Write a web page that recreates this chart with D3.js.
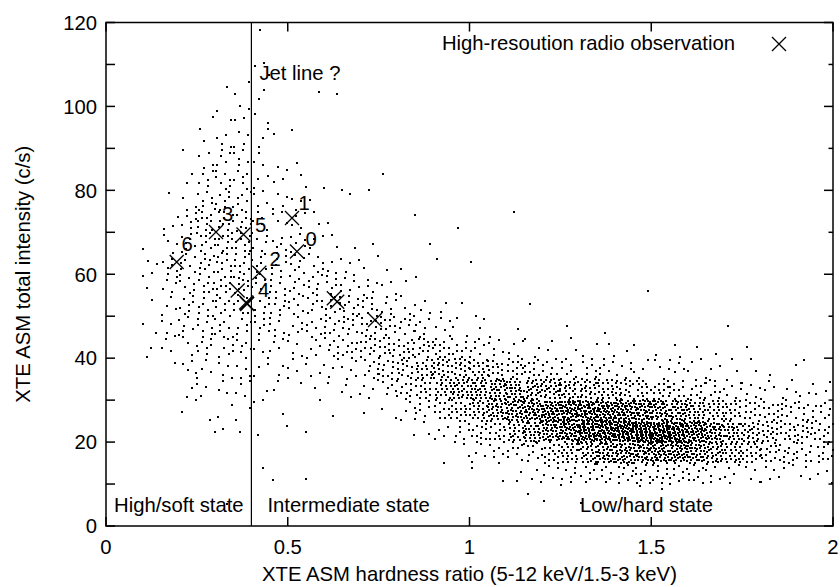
<!DOCTYPE html>
<html>
<head>
<meta charset="utf-8">
<script src="https://cdn.jsdelivr.net/npm/d3@7"></script>
<style>
  html, body { margin: 0; padding: 0; background: #fff; }
  svg { display: block; font-family: "Liberation Sans", Arial, Helvetica, sans-serif; }
</style>
</head>
<body>
<div id="chart"></div>
<script>
// hardness bins (lower edge, width 0.05) and intensity bins (lower edge, width 5)
const hardnessBins = d3.range(38).map((i) => +(0.10 + i * 0.05).toFixed(2));
const intensityBins = d3.range(24).map((i) => i * 5);

// number of ASM dwells per cell
// each row is one hardness bin, columns are intensity 0,5,10,... (trailing zeros left out)
const dwellCounts = [
  [0,0,0,0,0,0,0,0,2,2,1,2,3,1], // 0.10
  [0,0,0,0,0,0,0,1,3,4,4,5,6,4,3,1], // 0.15
  [0,0,0,0,0,1,3,4,4,6,7,7,7,7,6,3,2,1], // 0.20
  [0,0,0,0,1,1,3,4,6,7,8,9,9,10,10,7,5,4,2,1], // 0.25
  [0,1,0,0,1,2,3,4,6,7,8,10,10,10,10,8,7,5,4,2,1], // 0.30
  [0,0,0,0,1,2,4,4,6,7,8,10,9,9,9,7,6,5,4,3,2,1], // 0.35
  [0,0,1,0,1,1,2,3,4,6,7,7,7,6,5,4,3,3,3,2,2,2,1,1], // 0.40
  [0,0,1,0,1,1,2,3,4,6,7,7,7,6,4,4,3,1,1], // 0.45
  [0,0,1,0,0,0,1,3,4,6,7,7,7,6,4,3,2,1,1], // 0.50
  [0,0,0,0,1,0,2,3,5,7,8,7,6,3,2,1,1,0,0,0,1], // 0.55
  [0,0,0,0,0,1,2,4,7,9,9,8,4,2,1,0,1,0,0,0,1], // 0.60
  [0,0,0,0,0,0,3,5,9,10,9,5,3,1,0,1], // 0.65
  [0,0,0,0,0,1,4,8,11,11,9,5,2,1,0,0,1], // 0.70
  [0,0,0,0,0,2,6,11,13,11,6,3,1,0,0,0,1], // 0.75
  [0,0,0,0,1,4,10,14,14,8,4,1,1,0,1], // 0.80
  [0,0,0,0,2,7,14,18,13,7,3,1,0,1], // 0.85
  [0,0,0,1,4,12,20,20,11,5,2,0,1], // 0.90
  [0,0,0,2,7,17,26,20,8,3,1,0,0,0,1], // 0.95
  [0,0,1,4,11,24,30,18,7,2,1,0,1], // 1.00
  [0,0,1,6,15,32,31,15,5,1], // 1.05
  [0,0,2,8,22,38,32,13,4,1,0,0,0,0,1], // 1.10
  [0,1,3,10,30,44,29,10,3,0,1], // 1.15
  [0,1,4,15,40,50,27,8,2], // 1.20
  [0,1,6,21,50,54,25,7,2,1], // 1.25
  [0,1,7,28,60,54,22,7,2], // 1.30
  [0,0,8,35,68,54,20,6,2,1], // 1.35
  [0,0,9,40,72,50,18,5,1], // 1.40
  [0,1,9,43,72,45,15,4,1,0,0,1], // 1.45
  [0,1,9,46,72,40,13,4,1], // 1.50
  [0,0,9,45,65,35,11,4,2], // 1.55
  [0,0,8,38,54,28,10,3,1], // 1.60
  [0,0,6,30,40,21,9,3,1], // 1.65
  [0,0,5,23,30,16,6,2,0,1], // 1.70
  [0,0,4,17,23,13,5,2,1], // 1.75
  [0,0,4,14,18,11,4,1], // 1.80
  [0,0,3,11,14,10,4,1], // 1.85
  [0,0,3,10,13,9,3,1], // 1.90
  [0,0,3,10,12,8,3], // 1.95
];

// high-resolution radio observations (hardness, intensity)
const obsHardness  = [0.1945, 0.3026, 0.3783, 0.5117, 0.5254, 0.4217, 0.3623, 0.3855, 0.3885, 0.387, 0.6267, 0.636, 0.740];
const obsIntensity = [62.92, 70.07, 69.47, 73.40, 65.42, 60.34, 56.13, 53.3, 52.9, 53.1, 54.27, 53.43, 49.09];

// observation numbers written beside the crosses
const obsLabels = ["6", "3", "5", "1", "0", "2", "4"];
const obsLabelHardness  = [0.2077, 0.319, 0.41, 0.5296, 0.5488, 0.4498, 0.418];
const obsLabelIntensity = [65.6, 72.76, 70.1, 75.3, 66.7, 62.0, 54.6];

const xTicks = [0, 0.5, 1, 1.5, 2];
const yTicks = [0, 20, 40, 60, 80, 100, 120];
const yMinorTicks = [10, 30, 50, 70, 90, 110];
const jetLine = 0.40;
const stateLabels = ["High/soft state", "Intermediate state", "Low/hard state"];
const stateLabelHardness = [0.022, 0.444, 1.304];

const width = 840, height = 587;
const margin = { top: 22.5, right: 7, bottom: 61, left: 106 };
const fontSize = 20.3;

const x = d3.scaleLinear().domain([0, 2]).range([margin.left, width - margin.right]);
const y = d3.scaleLinear().domain([0, 120]).range([height - margin.bottom, margin.top]);

const svg = d3.select("#chart").append("svg")
  .attr("width", width)
  .attr("height", height)
  .style("font-size", fontSize + "px");

// spread each cell's dwells evenly inside the cell (R2 low-discrepancy sequence)
const a1 = 0.7548776662466927, a2 = 0.5698402909980532;
const dots = [];
let k = 0;
dwellCounts.forEach((row, i) => {
  row.forEach((n, j) => {
    for (let m = 0; m < n; m++, k++) {
      const u = (0.5 + a1 * k) % 1;
      const v = (0.5 + a2 * k) % 1;
      dots.push([hardnessBins[i] + u * 0.05, intensityBins[j] + v * 5]);
    }
  });
});

// crisp 2px dots like the original plot
svg.append("g")
  .attr("shape-rendering", "crispEdges")
  .selectAll("rect")
  .data(dots)
  .join("rect")
  .attr("x", (d) => Math.round(x(d[0])) - 1)
  .attr("y", (d) => Math.round(y(d[1])) - 1)
  .attr("width", 2)
  .attr("height", 2)
  .attr("fill", "#000");

// jet line
svg.append("line")
  .attr("x1", x(jetLine)).attr("x2", x(jetLine))
  .attr("y1", y(0)).attr("y2", y(120))
  .attr("stroke", "#000").attr("stroke-width", 1.2);

// axis frame with inward ticks on all sides
const axes = svg.append("g").attr("stroke", "#000").attr("stroke-width", 1.5);
axes.append("rect")
  .attr("x", x(0)).attr("y", y(120))
  .attr("width", x(2) - x(0)).attr("height", y(0) - y(120))
  .attr("fill", "none");

const tickLen = 9, minorLen = 4.5;
xTicks.forEach((t) => {
  axes.append("line").attr("x1", x(t)).attr("x2", x(t)).attr("y1", y(0)).attr("y2", y(0) - tickLen);
  axes.append("line").attr("x1", x(t)).attr("x2", x(t)).attr("y1", y(120)).attr("y2", y(120) + tickLen);
});
yTicks.forEach((t) => {
  axes.append("line").attr("x1", x(0)).attr("x2", x(0) + tickLen).attr("y1", y(t)).attr("y2", y(t));
  axes.append("line").attr("x1", x(2)).attr("x2", x(2) - tickLen).attr("y1", y(t)).attr("y2", y(t));
});
yMinorTicks.forEach((t) => {
  axes.append("line").attr("x1", x(0)).attr("x2", x(0) + tickLen).attr("y1", y(t)).attr("y2", y(t));
  axes.append("line").attr("x1", x(2)).attr("x2", x(2) - minorLen).attr("y1", y(t)).attr("y2", y(t));
});

// tick labels
svg.append("g")
  .attr("text-anchor", "middle")
  .selectAll("text")
  .data(xTicks)
  .join("text")
  .attr("x", (d) => x(d))
  .attr("y", y(0) + 28)
  .text((d) => d);

svg.append("g")
  .attr("text-anchor", "end")
  .selectAll("text")
  .data(yTicks)
  .join("text")
  .attr("x", x(0) - 9)
  .attr("y", (d) => y(d) + 7.3)
  .text((d) => d);

// axis titles
svg.append("text")
  .attr("x", (x(0) + x(2)) / 2)
  .attr("y", height - 6)
  .attr("text-anchor", "middle")
  .text("XTE ASM hardness ratio (5-12 keV/1.5-3 keV)");

svg.append("text")
  .attr("transform", `translate(30,${(y(0) + y(120)) / 2}) rotate(-90)`)
  .attr("text-anchor", "middle")
  .text("XTE ASM total intensity (c/s)");

// cross marker
const crossPath = (cx, cy, r) =>
  `M${cx - r},${cy - r}L${cx + r},${cy + r}M${cx - r},${cy + r}L${cx + r},${cy - r}`;

svg.append("g")
  .selectAll("path")
  .data(d3.range(obsHardness.length))
  .join("path")
  .attr("d", (i) => crossPath(x(obsHardness[i]), y(obsIntensity[i]), 7))
  .attr("stroke", "#000")
  .attr("stroke-width", 1.3)
  .attr("fill", "none");

svg.append("g")
  .selectAll("text")
  .data(obsLabels)
  .join("text")
  .attr("x", (d, i) => x(obsLabelHardness[i]))
  .attr("y", (d, i) => y(obsLabelIntensity[i]))
  .text((d) => d);

// annotations
svg.append("text")
  .attr("x", x(jetLine) + 8)
  .attr("y", 80.3)
  .text("Jet line ?");

svg.append("g")
  .selectAll("text")
  .data(stateLabels)
  .join("text")
  .attr("x", (d, i) => x(stateLabelHardness[i]))
  .attr("y", y(0) - 14.5)
  .text((d) => d);

// legend
svg.append("text")
  .attr("x", 735)
  .attr("y", 50)
  .attr("text-anchor", "end")
  .text("High-resoution radio observation");
svg.append("path")
  .attr("d", crossPath(779, 44, 7))
  .attr("stroke", "#000")
  .attr("stroke-width", 1.3)
  .attr("fill", "none");
</script>
</body>
</html>
